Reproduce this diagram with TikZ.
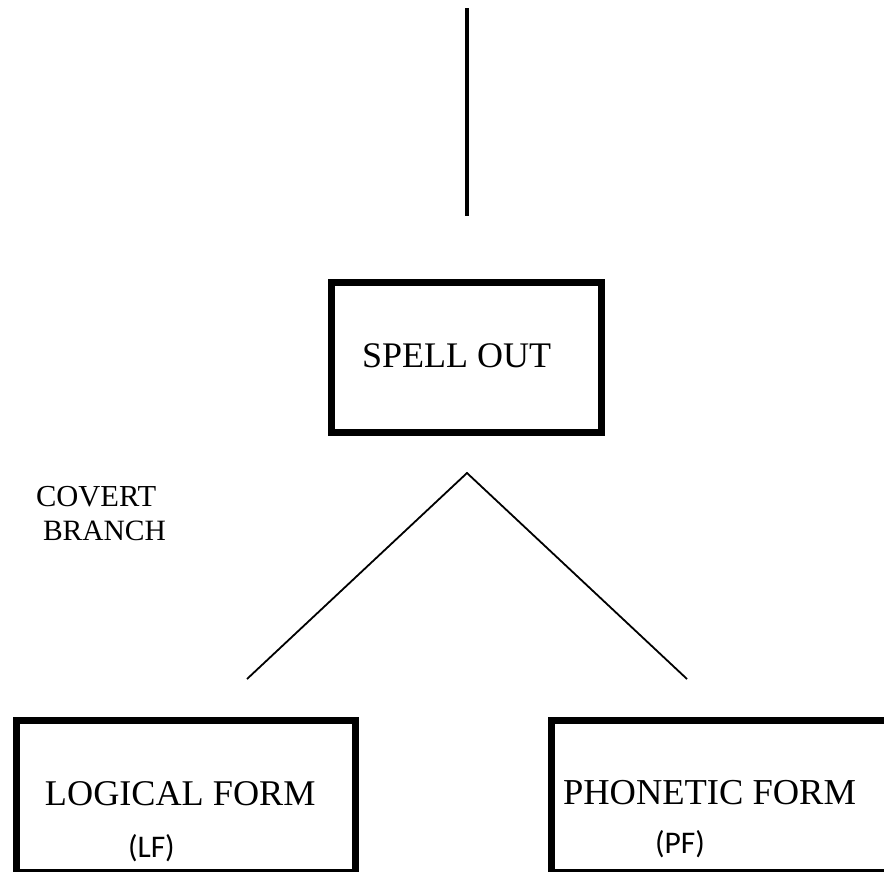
\documentclass[tikz,border=0pt]{standalone}
\usepackage{fontspec}
\setmainfont{Liberation Serif}
\newfontfamily\abbrfont{Carlito}
\begin{document}
\begin{tikzpicture}[x=1pt,y=-1pt,
  frame/.style={draw=black, line width=7pt, inner sep=0pt, outer sep=0pt},
  caption/.style={anchor=base west, inner sep=0pt, outer sep=0pt},
  abbr/.style={caption, font=\abbrfont\fontsize{31.5}{34}\selectfont},
  stem/.style={line width=4pt},
  branch/.style={line width=1.8pt, line join=miter}]
\useasboundingbox (0,0) rectangle (884,871);
\clip (0,0) rectangle (884,871);

% vertical stem above the spell-out box
\coordinate (stemtop) at (466.5,8);
\coordinate (stembot) at (466.5,216);
\draw[stem] (stemtop) -- (stembot);

% spell-out box
\node[frame, minimum width=270pt, minimum height=150pt] (spellout) at (466.5,357.5) {};
\node[caption, font=\fontsize{36}{40}\selectfont] (spelltext) at (362,367) {SPELL OUT};

% covert branch label
\node[caption, font=\fontsize{30.5}{33}\selectfont] (covert) at (36,506) {COVERT};
\node[caption, font=\fontsize{29.5}{33}\selectfont] (branchlbl) at (43,540) {BRANCH};

% branching lines towards the two interface levels
\coordinate (apex) at (467,473);
\coordinate (lfend) at (247,679);
\coordinate (pfend) at (687,679);
\draw[branch] (lfend) -- (apex) -- (pfend);

% logical form box
\node[frame, minimum width=339pt, minimum height=151.5pt] (lfbox) at (185.5,796.25) {};
\node[caption, font=\fontsize{36.2}{40}\selectfont] (lftext) at (45,805) {LOGICAL FORM};
\node[abbr] (lfabbr) at (128,857) {(LF)};

% phonetic form box
\node[frame, minimum width=348.5pt, minimum height=151.5pt] (pfbox) at (725.75,796.25) {};
\node[caption, font=\fontsize{36.5}{40}\selectfont] (pftext) at (563,804) {PHONETIC FORM};
\node[abbr] (pfabbr) at (655,853) {(PF)};
\end{tikzpicture}
\end{document}
